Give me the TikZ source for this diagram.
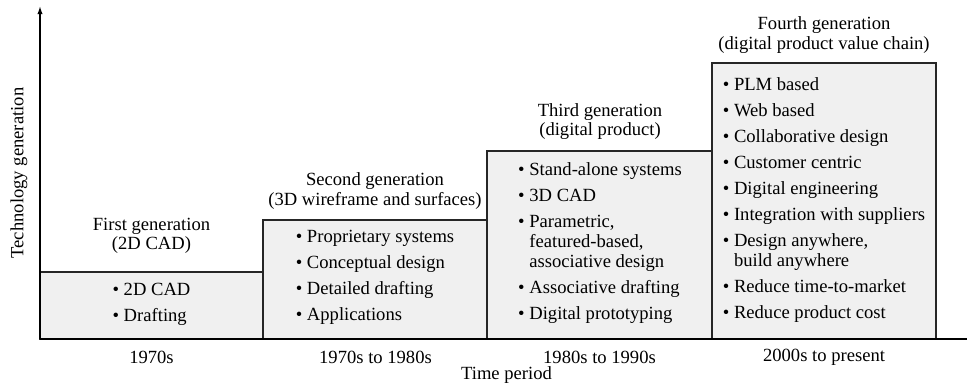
\documentclass[tikz,border=0pt]{standalone}
\usepackage{fontspec}
\setmainfont{Liberation Serif}
\usetikzlibrary{arrows.meta}

\newcommand{\hang}{\phantom{\textbullet\ }}

\begin{document}
\begin{tikzpicture}[x=0.5pt,y=-0.5pt,
  genbox/.style={line width=0.65pt,draw=black!85,fill=black!6},
  gentitle/.style={font=\fontsize{9.3}{9.8}\selectfont,align=center,inner sep=0pt},
  genitems/.style={font=\fontsize{9.3}{10}\selectfont,align=left,inner sep=0pt},
  period/.style={font=\fontsize{9.3}{10}\selectfont,inner sep=0pt}]
\useasboundingbox (0,0) rectangle (967,391);
% generation boxes
\draw[genbox] (40,272) rectangle (263,339);
\draw[genbox] (263,220) rectangle (487,339);
\draw[genbox] (487,151) rectangle (712,339);
\draw[genbox] (712,63) rectangle (936,339);
% axes
\draw[line width=0.7pt,-{Latex[length=4pt,width=2.6pt]}] (40,339) -- (40,6);
\draw[line width=0.7pt] (40,339) -- (967,339);
\node[period,rotate=90] (ylab) at (19,173) {Technology generation};
\node[period] (xlab) at (506.5,375) {Time period};
% titles
\node[gentitle] (t1) at (151.5,236) {First generation\\(2D CAD)};
\node[gentitle] (t2) at (375,191) {Second generation\\(3D wireframe and surfaces)};
\node[gentitle] (t3) at (600,121.5) {Third generation\\(digital product)};
\node[gentitle] (t4) at (824,35) {Fourth generation\\(digital product value chain)};
% contents
\node[genitems] (l1) at (151.5,304) {\textbullet\ 2D CAD\\[3pt]\textbullet\ Drafting};
\node[genitems] (l2) at (375,277.5) {\textbullet\ Proprietary systems\\[3pt]
  \textbullet\ Conceptual design\\[3pt]\textbullet\ Detailed drafting\\[3pt]
  \textbullet\ Applications};
\node[genitems] (l3) at (600,243.5) {\textbullet\ Stand-alone systems\\[3pt]
  \textbullet\ 3D CAD\\[3pt]\textbullet\ Parametric,\\\hang featured-based,\\
  \hang associative design\\[3pt]\textbullet\ Associative drafting\\[3pt]
  \textbullet\ Digital prototyping};
\node[genitems] (l4) at (824,200.5) {\textbullet\ PLM based\\[3pt]
  \textbullet\ Web based\\[3pt]\textbullet\ Collaborative design\\[3pt]
  \textbullet\ Customer centric\\[3pt]\textbullet\ Digital engineering\\[3pt]
  \textbullet\ Integration with suppliers\\[3pt]\textbullet\ Design anywhere,\\
  \hang build anywhere\\[3pt]\textbullet\ Reduce time-to-market\\[3pt]
  \textbullet\ Reduce product cost};
% periods
\node[period] (p1) at (151.5,357) {1970s};
\node[period] (p2) at (375.5,357) {1970s to 1980s};
\node[period] (p3) at (599.5,357) {1980s to 1990s};
\node[period] (p4) at (824,357) {2000s to present};
\end{tikzpicture}
\end{document}
